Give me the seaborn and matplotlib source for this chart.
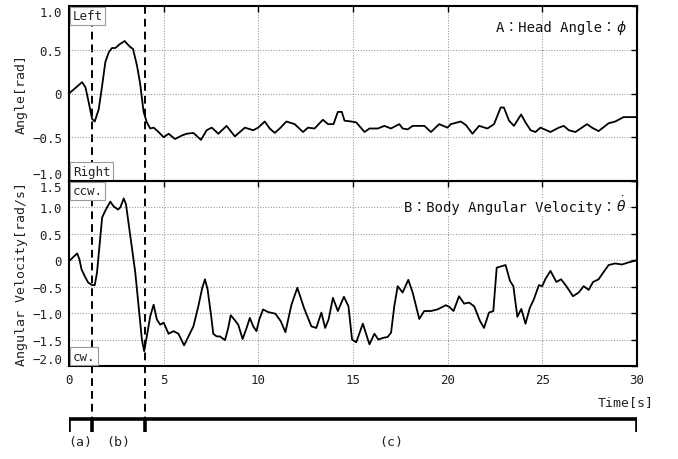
import matplotlib
matplotlib.use("Agg")
import matplotlib.pyplot as plt
import seaborn as sns
import numpy as np

# ---------------- data ----------------
t_head = [0.0, 0.43, 0.69, 0.87, 1.04, 1.22, 1.36, 1.57, 1.75, 1.92,
          2.1, 2.27, 2.45, 2.66, 2.94, 3.06, 3.24, 3.38, 3.59, 3.76,
          3.94, 4.11, 4.29, 4.47, 4.73, 5.0, 5.26, 5.6, 5.96, 6.22,
          6.57, 6.97, 7.27, 7.54, 7.89, 8.32, 8.76, 9.29, 9.73, 9.99,
          10.34, 10.6, 10.87, 11.13, 11.48, 11.92, 12.36, 12.62, 12.97, 13.41,
          13.68, 13.97, 14.2, 14.41, 14.55, 14.9, 15.17, 15.61, 15.87, 16.31,
          16.66, 17.0, 17.45, 17.62, 17.89, 18.15, 18.77, 19.12, 19.55, 19.99,
          20.17, 20.69, 20.96, 21.31, 21.66, 22.1, 22.45, 22.8, 22.97, 23.24,
          23.5, 23.88, 24.11, 24.38, 24.64, 24.9, 25.43, 25.87, 26.13, 26.4,
          26.75, 27.36, 27.62, 27.97, 28.5, 28.85, 29.29, 29.56, 30.0]
head_angle = [0.0, 0.08, 0.13, 0.07, -0.10, -0.29, -0.32, -0.18, 0.09, 0.36,
              0.47, 0.52, 0.52, 0.56, 0.60, 0.57, 0.53, 0.51, 0.32, 0.11,
              -0.21, -0.33, -0.40, -0.39, -0.44, -0.50, -0.46, -0.52, -0.48, -0.46,
              -0.45, -0.53, -0.42, -0.39, -0.46, -0.37, -0.49, -0.39, -0.42, -0.39,
              -0.32, -0.40, -0.45, -0.40, -0.32, -0.35, -0.44, -0.39, -0.40, -0.30,
              -0.35, -0.35, -0.21, -0.21, -0.31, -0.32, -0.33, -0.44, -0.40, -0.40,
              -0.37, -0.40, -0.35, -0.40, -0.41, -0.37, -0.37, -0.44, -0.35, -0.39,
              -0.35, -0.32, -0.36, -0.46, -0.37, -0.40, -0.35, -0.16, -0.16, -0.31,
              -0.37, -0.24, -0.33, -0.42, -0.44, -0.39, -0.44, -0.39, -0.37, -0.42,
              -0.44, -0.35, -0.39, -0.43, -0.34, -0.32, -0.27, -0.27, -0.27]

t_body = [0.0, 0.25, 0.43, 0.55, 0.66, 0.83, 1.01, 1.22, 1.36, 1.48,
          1.61, 1.75, 1.92, 2.18, 2.36, 2.59, 2.71, 2.89, 3.01, 3.24,
          3.5, 3.71, 3.85, 3.97, 4.11, 4.29, 4.47, 4.64, 4.82, 5.0,
          5.26, 5.52, 5.78, 6.08, 6.31, 6.57, 6.83, 7.04, 7.18, 7.32,
          7.5, 7.62, 7.8, 7.97, 8.24, 8.41, 8.54, 8.73, 8.94, 9.17,
          9.38, 9.55, 9.73, 9.9, 10.05, 10.25, 10.52, 10.9, 11.18, 11.43,
          11.75, 12.06, 12.41, 12.8, 13.06, 13.33, 13.53, 13.71, 13.94, 14.2,
          14.52, 14.76, 14.95, 15.17, 15.52, 15.87, 16.13, 16.34, 16.57, 16.83,
          17.01, 17.18, 17.36, 17.62, 17.92, 18.15, 18.33, 18.5, 18.76, 19.11,
          19.46, 19.9, 20.08, 20.31, 20.6, 20.87, 21.13, 21.4, 21.71, 21.92,
          22.18, 22.41, 22.59, 22.77, 23.06, 23.29, 23.47, 23.68, 23.89, 24.11,
          24.34, 24.55, 24.82, 24.99, 25.17, 25.43, 25.74, 25.99, 26.27, 26.62,
          26.92, 27.18, 27.45, 27.68, 27.97, 28.24, 28.5, 28.85, 29.2, 29.56,
          29.9, 30.0]
body_ang_vel = [-0.02, 0.07, 0.13, 0.02, -0.17, -0.30, -0.42, -0.47, -0.47, -0.23,
                0.27, 0.81, 0.94, 1.11, 1.02, 0.96, 1.00, 1.17, 1.06, 0.46,
                -0.23, -0.99, -1.50, -1.72, -1.44, -1.06, -0.84, -1.12, -1.22, -1.18,
                -1.39, -1.34, -1.39, -1.61, -1.44, -1.25, -0.87, -0.52, -0.36, -0.55,
                -1.03, -1.39, -1.44, -1.44, -1.51, -1.28, -1.04, -1.12, -1.22, -1.49,
                -1.28, -1.09, -1.25, -1.34, -1.12, -0.93, -0.98, -1.01, -1.15, -1.36,
                -0.84, -0.52, -0.90, -1.25, -1.28, -0.99, -1.28, -1.12, -0.71, -0.96,
                -0.69, -0.87, -1.50, -1.55, -1.20, -1.59, -1.39, -1.50, -1.47, -1.45,
                -1.37, -0.87, -0.49, -0.61, -0.37, -0.61, -0.87, -1.11, -0.96, -0.96,
                -0.93, -0.85, -0.88, -0.96, -0.68, -0.82, -0.80, -0.87, -1.15, -1.28,
                -0.99, -0.96, -0.14, -0.12, -0.09, -0.39, -0.49, -1.07, -0.92, -1.20,
                -0.90, -0.74, -0.47, -0.49, -0.35, -0.20, -0.41, -0.36, -0.49, -0.68,
                -0.61, -0.49, -0.56, -0.41, -0.36, -0.22, -0.09, -0.06, -0.08, -0.04,
                -0.01, 0.0]

phase_bounds = [0.0, 1.2, 4.0, 30.0]
phase_labels = ["(a)", "(b)", "(c)"]

x_ticks = [0, 5, 10, 15, 20, 25, 30]
x_tick_labels = ["0", "5", "10", "15", "20", "25", "30"]
top_y_ticks = [-1.0, -0.5, 0.0, 0.5, 1.0]
top_y_labels = ["\u22121.0", "\u22120.5", "0", "0.5", "1.0"]
bot_y_ticks = [-2.0, -1.5, -1.0, -0.5, 0.0, 0.5, 1.0, 1.5]
bot_y_labels = ["\u22122.0", "\u22121.5", "\u22121.0", "\u22120.5", "0", "0.5", "1.0", "1.5"]

# ---------------- style ----------------
sns.set_theme(style="white")
plt.rcParams["font.family"] = ["DejaVu Sans Mono", "Noto Sans CJK JP"]
plt.rcParams["mathtext.fontset"] = "dejavusans"

FW, FH = 678, 460
fig = plt.figure(figsize=(FW / 100, FH / 100), dpi=100)
fig.patch.set_facecolor("white")

def fy(px):
    return 1 - px / FH

L = 69 / FW
W = 637 / FW - L
ax_top = fig.add_axes([L, fy(182), W, fy(7) - fy(182)], zorder=2)
ax_bot = fig.add_axes([L, fy(367), W, fy(182) - fy(367)], zorder=2)
ov = fig.add_axes([L, 0, W, 1], zorder=1)
ov.set_xlim(0, 30)
ov.set_ylim(FH, 0)
ov.axis("off")

# phase dashed lines and bracket (behind the transparent data axes)
for b in phase_bounds[1:-1]:
    ov.plot([b, b], [7, 420], color="black", lw=1.4, ls=(0, (4, 2.6)))
ov.plot([phase_bounds[0], phase_bounds[-1]], [420, 420], color="black", lw=2.6,
        solid_capstyle="projecting")
for b in phase_bounds:
    ov.plot([b, b], [420, 433], color="black", lw=2.6, solid_capstyle="butt")
for i, lab in enumerate(phase_labels):
    ov.text((phase_bounds[i] + phase_bounds[i + 1]) / 2, 443, lab,
            ha="center", va="center", fontsize=9.5, color="#222")

# data
sns.lineplot(x=t_head, y=head_angle, ax=ax_top, color="black", lw=1.3)
sns.lineplot(x=t_body, y=body_ang_vel, ax=ax_bot, color="black", lw=1.3)

for ax in (ax_top, ax_bot):
    ax.set_facecolor("none")
    ax.set_xlim(0, 30)
    ax.set_xticks(x_ticks)
    ax.grid(True, ls=(0, (1, 1.8)), color="#8a8a8a", lw=0.7)
    ax.tick_params(direction="in", top=True, right=True, length=4, width=1.0,
                   color="black", labelcolor="#222", labelsize=9, pad=5)
    for s in ax.spines.values():
        s.set_linewidth(1.5)
        s.set_color("black")
    ax.set_xlabel("")

ax_top.set_ylim(-1.0, 1.0)
ax_top.set_yticks(top_y_ticks, labels=top_y_labels)
ax_top.tick_params(labelbottom=False)
ax_bot.set_ylim(-2.0, 1.5)
ax_bot.set_yticks(bot_y_ticks, labels=bot_y_labels)
ax_bot.set_xticks(x_ticks, labels=x_tick_labels)

# keep the end labels of the stacked panels inside their own panel
for ax in (ax_top, ax_bot):
    labs = ax.get_yticklabels()
    labs[0].set_va("bottom")
    labs[-1].set_va("top")

ax_top.set_ylabel("Angle[rad]", fontsize=9.5, color="#222")
ax_bot.set_ylabel("Angular Velocity[rad/s]", fontsize=9.5, color="#222")
ax_top.yaxis.set_label_coords(-0.072, 0.5)
ax_bot.yaxis.set_label_coords(-0.072, 0.5)

ax_bot.text(1.03, -0.19, "Time[s]", transform=ax_bot.transAxes, ha="right",
            va="center", fontsize=9.5, color="#222")

box = dict(boxstyle="square,pad=0.2", fc="white", ec="#999", lw=0.8)
ax_top.text(0.007, 0.982, "Left", transform=ax_top.transAxes, ha="left", va="top",
            fontsize=9, bbox=box, zorder=6, color="#222")
ax_top.text(0.007, 0.018, "Right", transform=ax_top.transAxes, ha="left", va="bottom",
            fontsize=9, bbox=box, zorder=6, color="#222")
ax_bot.text(0.007, 0.982, "ccw.", transform=ax_bot.transAxes, ha="left", va="top",
            fontsize=9, bbox=box, zorder=6, color="#222")
ax_bot.text(0.007, 0.018, "cw.", transform=ax_bot.transAxes, ha="left", va="bottom",
            fontsize=9, bbox=box, zorder=6, color="#222")

# panel titles: plain text part (with full-width colons) + math symbol
white = dict(boxstyle="square,pad=0.15", fc="white", ec="none")
ta = ax_top.text(0.963, 0.857, "A\uff1aHead Angle\uff1a", transform=ax_top.transAxes,
                 ha="right", va="baseline", fontsize=10, color="#111", zorder=6)
ax_top.annotate("$\\phi$", xy=(1, 0.857), xycoords=(ta, ax_top.transAxes),
                ha="left", va="baseline", fontsize=10, color="#111", zorder=6)
tb = ax_bot.text(0.963, 0.838, "B\uff1aBody Angular Velocity\uff1a",
                 transform=ax_bot.transAxes, ha="right", va="baseline", fontsize=10,
                 color="#111", zorder=6, bbox=white)
ax_bot.annotate("$\\dot{\\theta}$", xy=(1, 0.838), xycoords=(tb, ax_bot.transAxes),
                ha="left", va="baseline", fontsize=10, color="#111", zorder=6,
                bbox=white)

fig.savefig("out.png", dpi=100)
